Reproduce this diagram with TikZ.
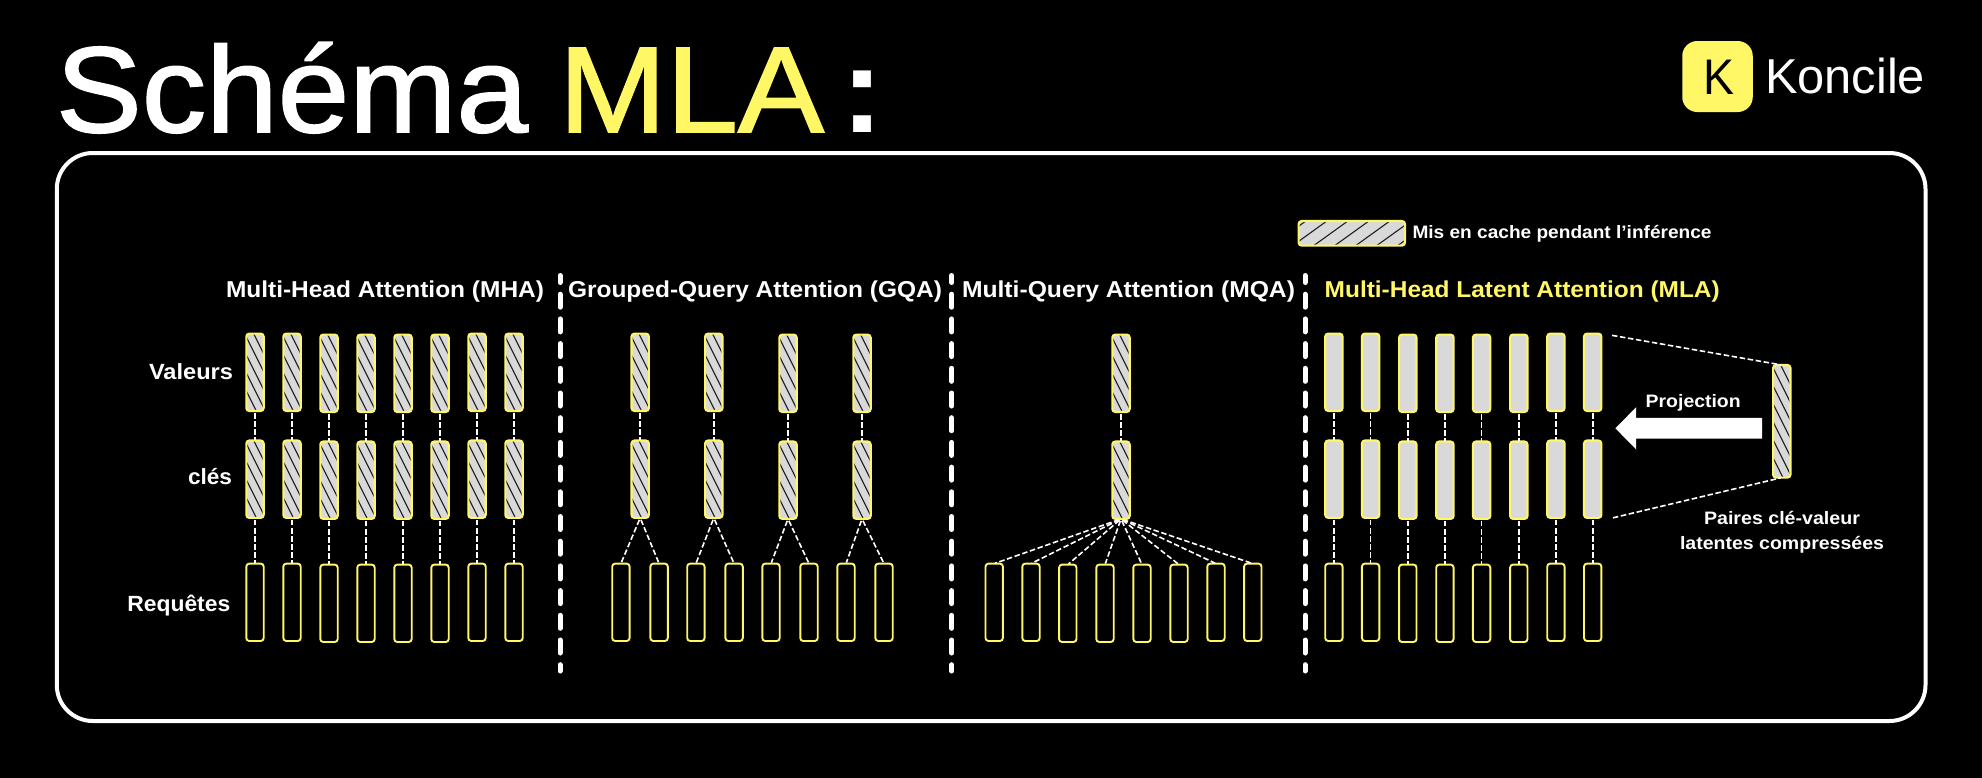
\documentclass[tikz,border=0pt]{standalone}
\usepackage{fontspec}
\usepackage{graphicx}
\usetikzlibrary{shapes.arrows}
\setmainfont{Liberation Sans}
\newfontfamily\titlefont[FakeBold=1.4]{Liberation Sans}
\newfontfamily\colonfont{Liberation Sans Bold}
\newfontfamily\labfont[BoldFont={Liberation Sans Bold}]{Liberation Sans}
\definecolor{kyellow}{HTML}{FFF766}
\definecolor{kgray}{HTML}{D9D9D9}
\definecolor{khatch}{HTML}{1E1E1E}
\newcommand\fitw[2]{\resizebox{#1pt}{\height}{#2}}
\newcommand\hatchdown{%
  \foreach \k in {-6,...,6}{
    \draw[khatch,line width=1.1pt] ([shift={(-20,{\k*18-40})}]path picture bounding box.center) -- ([shift={(20,{\k*18+40})}]path picture bounding box.center);
  }}
\newcommand\hatchup{%
  \foreach \k in {-6,...,6}{
    \draw[khatch,line width=1.1pt] ([shift={({\k*21-30},21.6)}]path picture bounding box.center) -- ([shift={({\k*21+30},-21.6)}]path picture bounding box.center);
  }}
\tikzset{
  every node/.style={inner sep=0pt,outer sep=0pt},
  barbase/.style={draw=kyellow,line width=2.1pt,rounded corners=3pt,minimum width=17.4pt,minimum height=77.4pt},
  cached/.style={barbase,fill=kgray,path picture={\hatchdown}},
  plainbar/.style={barbase,fill=kgray},
  querybar/.style={barbase,fill=black,line width=1.9pt},
  conn/.style={draw=white,line width=1.6pt,dash pattern=on 5.5pt off 2.6pt,shorten >=1pt,shorten <=2pt},
  divider/.style={draw=white,line width=5pt,line cap=round,dash pattern=on 13pt off 11.7pt,dash phase=6pt},
  titletxt/.style={anchor=base west,font=\titlefont\fontsize{122}{122}\selectfont},
  headtxt/.style={anchor=base west,text=white,font=\labfont\bfseries\fontsize{23}{23}\selectfont},
  rowtxt/.style={anchor=base west,text=white,font=\labfont\bfseries\fontsize{22}{22}\selectfont},
  smalltxt/.style={anchor=base west,text=white,font=\labfont\bfseries\fontsize{18}{18}\selectfont},
}
\begin{document}
\begin{tikzpicture}[x=1pt,y=-1pt]
\useasboundingbox (0,0) rectangle (1982,777);
\fill[black] (-3,-3) rectangle (1985,780);

% title
\node[titletxt,text=white] (t1) at (56,132) {\fitw{472}{Schéma}};
\node[titletxt,text=kyellow] (t2) at (559,132) {\fitw{265}{MLA}};
\node[titletxt,text=white,font=\colonfont\fontsize{122}{122}\selectfont] (t3) at (841,132) {\fitw{42}{:}};

% logo
\node[fill=kyellow,rounded corners=15pt,minimum width=70.5pt,minimum height=71pt] (logo) at (1717.5,76.5) {};
\node[anchor=base west,text=black,font=\fontsize{50}{50}\selectfont] (logok) at (1703,94.3) {\fitw{31}{K}};
\node[anchor=base west,text=white,font=\fontsize{49}{49}\selectfont] (logot) at (1765,93.3) {\fitw{160}{Koncile}};

% panel
\node[draw=white,line width=4pt,rounded corners=36pt,minimum width=1868.7pt,minimum height=568pt] (panel) at (991.15,437) {};

% legend
\node[barbase,fill=kgray,minimum width=106.4pt,minimum height=24.6pt,path picture={\hatchup}] (legend) at (1351.8,233.3) {};
\node[smalltxt] (legendt) at (1412.5,238.7) {\fitw{299}{Mis en cache pendant l’inférence}};

% headings
\node[headtxt] (h1) at (226,297) {\fitw{318}{Multi-Head Attention (MHA)}};
\node[headtxt] (h2) at (568,297) {\fitw{374}{Grouped-Query Attention (GQA)}};
\node[headtxt] (h3) at (962,297) {\fitw{333}{Multi-Query Attention (MQA)}};
\node[headtxt,text=kyellow] (h4) at (1324.7,297) {\fitw{395}{Multi-Head Latent Attention (MLA)}};

% row labels
\node[rowtxt] (r1) at (149,379) {\fitw{84}{Valeurs}};
\node[rowtxt] (r2) at (188,484.7) {\fitw{44}{clés}};
\node[rowtxt] (r3) at (127.3,611) {\fitw{103}{Requêtes}};

% dividers
\coordinate (d1a) at (560,275.5); \coordinate (d1b) at (560,671);
\coordinate (d2a) at (951.7,275.5); \coordinate (d2b) at (951.7,671);
\coordinate (d3a) at (1305,275.5); \coordinate (d3b) at (1305,671);
\draw[divider] (d1a) -- (d1b);
\draw[divider] (d2a) -- (d2b);
\draw[divider] (d3a) -- (d3b);

% MHA
\foreach \i/\x/\o in {1/255/0,2/292/0,3/329/1,4/366/1,5/403/1,6/440/1,7/477/0,8/514/0}{
  \node[cached] (av\i) at (\x,372.3+\o) {};
  \node[cached] (ak\i) at (\x,479.2+\o) {};
  \node[querybar] (aq\i) at (\x,602.3+\o) {};
  \draw[conn] (av\i) -- (ak\i);
  \draw[conn] (ak\i) -- (aq\i);
}

% GQA
\foreach \i/\x/\o in {1/640.2/0,2/713.8/0,3/788/1,4/862/1}{
  \node[cached] (bv\i) at (\x,372.3+\o) {};
  \node[cached] (bk\i) at (\x,479.2+\o) {};
  \draw[conn] (bv\i) -- (bk\i);
}
\foreach \i/\x in {1/620.9,2/659.1,3/695.9,4/734.1,5/771,6/809,7/846,8/884}{
  \node[querybar] (bq\i) at (\x,602.3) {};
}
\draw[conn] (bk1.south) -- (bq1.north);
\draw[conn] (bk1.south) -- (bq2.north);
\draw[conn] (bk2.south) -- (bq3.north);
\draw[conn] (bk2.south) -- (bq4.north);
\draw[conn] (bk3.south) -- (bq5.north);
\draw[conn] (bk3.south) -- (bq6.north);
\draw[conn] (bk4.south) -- (bq7.north);
\draw[conn] (bk4.south) -- (bq8.north);

% MQA
\node[cached] (cv) at (1121,373.3) {};
\node[cached] (ck) at (1121,480.2) {};
\draw[conn] (cv) -- (ck);
\foreach \i/\x/\o in {1/994.2/0,2/1031/0,3/1067.8/1,4/1105/1,5/1142/1,6/1179/1,7/1216/0,8/1252.8/0}{
  \node[querybar] (cq\i) at (\x,602.3+\o) {};
  \draw[conn] (ck.south) -- (cq\i.north);
}

% MLA
\foreach \i/\x/\o in {1/1333.9/0,2/1370.6/0,3/1407.8/1,4/1444.9/1,5/1481.6/1,6/1518.8/1,7/1555.9/0,8/1592.7/0}{
  \node[plainbar] (dv\i) at (\x,372.3+\o) {};
  \node[plainbar] (dk\i) at (\x,479.2+\o) {};
  \node[querybar] (dq\i) at (\x,602.3+\o) {};
  \draw[conn] (dv\i) -- (dk\i);
  \draw[conn] (dk\i) -- (dq\i);
}

% latent
\node[cached,minimum height=112.6pt] (lat) at (1781.8,421.3) {};
\coordinate (p1) at (1610,335);
\coordinate (p2) at (1611,518.3);
\draw[conn] (p1) -- (lat.north);
\draw[conn] (p2) -- (lat.south);

% projection arrow
\node[single arrow,fill=white,shape border rotate=180,minimum height=146.6pt,single arrow head extend=10.8pt,single arrow tip angle=91,single arrow head indent=0pt] (arrow) at (1693.8,428.3) {\rule{0pt}{20.4pt}};
\node[smalltxt] (proj) at (1645.7,407.7) {\fitw{95}{Projection}};

\node[smalltxt] (p3) at (1704,524.3) {\fitw{156}{Paires clé-valeur}};
\node[smalltxt] (p4) at (1680,549.3) {\fitw{204}{latentes compressées}};
\end{tikzpicture}
\end{document}
